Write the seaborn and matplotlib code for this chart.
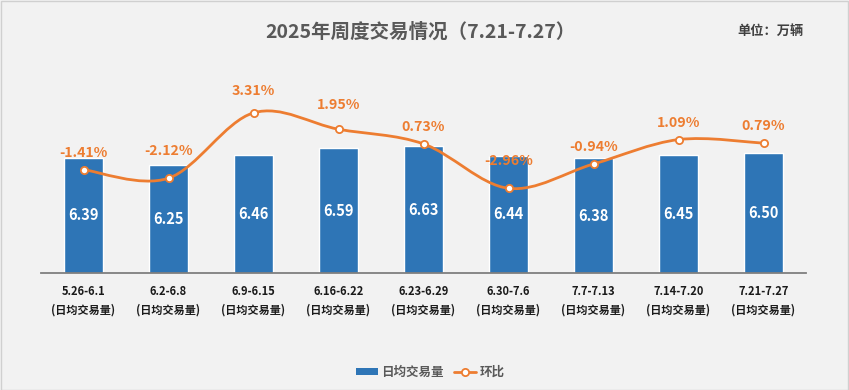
import numpy as np
import pandas as pd
import matplotlib
matplotlib.use("Agg")
import matplotlib.pyplot as plt
from matplotlib.path import Path
from matplotlib.patches import PathPatch, Rectangle
from matplotlib.lines import Line2D
from matplotlib.patches import Patch
import seaborn as sns

periods = ["5.26-6.1", "6.2-6.8", "6.9-6.15", "6.16-6.22", "6.23-6.29",
           "6.30-7.6", "7.7-7.13", "7.14-7.20", "7.21-7.27"]
daily_volume = [6.39, 6.25, 6.46, 6.59, 6.63, 6.44, 6.38, 6.45, 6.50]
mom_change = [-1.41, -2.12, 3.31, 1.95, 0.73, -2.96, -0.94, 1.09, 0.79]
label_offsets_px = [17, 27, 22, 24, 17, 27, 17, 17, 17]

title = "2025年周度交易情况（7.21-7.27）"
unit_text = "单位：万辆"
sub_label = "(日均交易量)"
bar_name = "日均交易量"
line_name = "环比"

BLUE = "#2e75b6"
ORANGE = "#ed7d31"
BG = "#f2f2f2"

sns.set_theme(style="white")
plt.rcParams["font.family"] = ["Noto Sans CJK SC", "DejaVu Sans"]
plt.rcParams["font.weight"] = "bold"

W, H = 849, 390
fig = plt.figure(figsize=(W / 100, H / 100), dpi=100, facecolor=BG)
# outer border
fig.add_artist(Rectangle((0.5 / W, 0.5 / H), 1 - 1.5 / W, 1 - 1.5 / H,
                         transform=fig.transFigure, fill=False,
                         edgecolor="#d0d0d0", linewidth=1.0))

left, right, bottom_px, top_px = 41, 806, 273, 80.5
ax = fig.add_axes([left / W, (H - bottom_px) / H, (right - left) / W,
                   (bottom_px - top_px) / H])
ax.set_facecolor("none")

df = pd.DataFrame({"period": periods, "vol": daily_volume})
sns.barplot(data=df, x="period", y="vol", color=BLUE, width=0.46,
            saturation=1, ax=ax)
ax.set_ylim(4, 8)
ax.set_xlim(-0.5, len(periods) - 0.5)
ax.set_xlabel("")
ax.set_ylabel("")
ax.set_yticks([])
for s in ["top", "left", "right"]:
    ax.spines[s].set_visible(False)
ax.spines["bottom"].set_color("#7f7f7f")
ax.spines["bottom"].set_linewidth(1.3)
ax.set_xticks(range(len(periods)))
ax.set_xticklabels([f"{p}\n{sub_label}" for p in periods], fontsize=8,
                   fontweight="bold", color="#1a1a1a", linespacing=1.55)
ax.tick_params(axis="x", length=0, pad=8.5)

for i, v in enumerate(daily_volume):
    ax.text(i, (4 + v) / 2, f"{v:.2f}", ha="center", va="center",
            color="white", fontsize=10.5, fontweight="bold")

ax2 = ax.twinx()
ax2.set_ylim(-10, 6)
ax2.set_yticks([])
for s in ax2.spines.values():
    s.set_visible(False)

# smooth curve (Catmull-Rom -> cubic Bezier) through the data points
xs = np.arange(len(mom_change), dtype=float)
ys = np.array(mom_change, dtype=float)
P = np.column_stack([xs, ys])
verts = [tuple(P[0])]
codes = [Path.MOVETO]
n = len(P)
for i in range(n - 1):
    p0 = P[i - 1] if i > 0 else P[i]
    p1 = P[i]
    p2 = P[i + 1]
    p3 = P[i + 2] if i + 2 < n else P[i + 1]
    c1 = p1 + (p2 - p0) / 6.0
    c2 = p2 - (p3 - p1) / 6.0
    verts += [tuple(c1), tuple(c2), tuple(p2)]
    codes += [Path.CURVE4] * 3
ax2.add_patch(PathPatch(Path(verts, codes), facecolor="none",
                        edgecolor=ORANGE, linewidth=2.0, zorder=3,
                        capstyle="round", joinstyle="round"))
ax2.plot(xs, ys, linestyle="none", marker="o", markersize=5.2,
         markerfacecolor="white", markeredgecolor=ORANGE,
         markeredgewidth=1.3, zorder=4)

for i, (v, off) in enumerate(zip(mom_change, label_offsets_px)):
    ax2.annotate(f"{v:.2f}%", (i, v), xytext=(0, off * 0.72),
                 textcoords="offset points", ha="center", va="center",
                 color=ORANGE, fontsize=10.2, fontweight="bold", zorder=5)

fig.text(420 / W, 1 - 32 / H, title, ha="center", va="center",
         fontsize=14, fontweight="bold", color="#595959")
fig.text(770 / W, 1 - 31 / H, unit_text, ha="center", va="center",
         fontsize=9.5, fontweight="bold", color="#404040")

handles = [Patch(facecolor=BLUE, edgecolor="none", label=bar_name),
           Line2D([0], [0], color=ORANGE, linewidth=2, marker="o",
                  markersize=5.2, markerfacecolor="white",
                  markeredgecolor=ORANGE, markeredgewidth=1.3,
                  label=line_name)]
leg = fig.legend(handles=handles, loc="center", bbox_to_anchor=(430 / W, 1 - 372 / H),
                 ncol=2, frameon=False, fontsize=9, handlelength=1.8,
                 handleheight=0.5, columnspacing=0.8, handletextpad=0.25)
for t in leg.get_texts():
    t.set_color("#595959")
    t.set_fontweight("bold")

fig.savefig("out.png", dpi=100, facecolor=BG)
